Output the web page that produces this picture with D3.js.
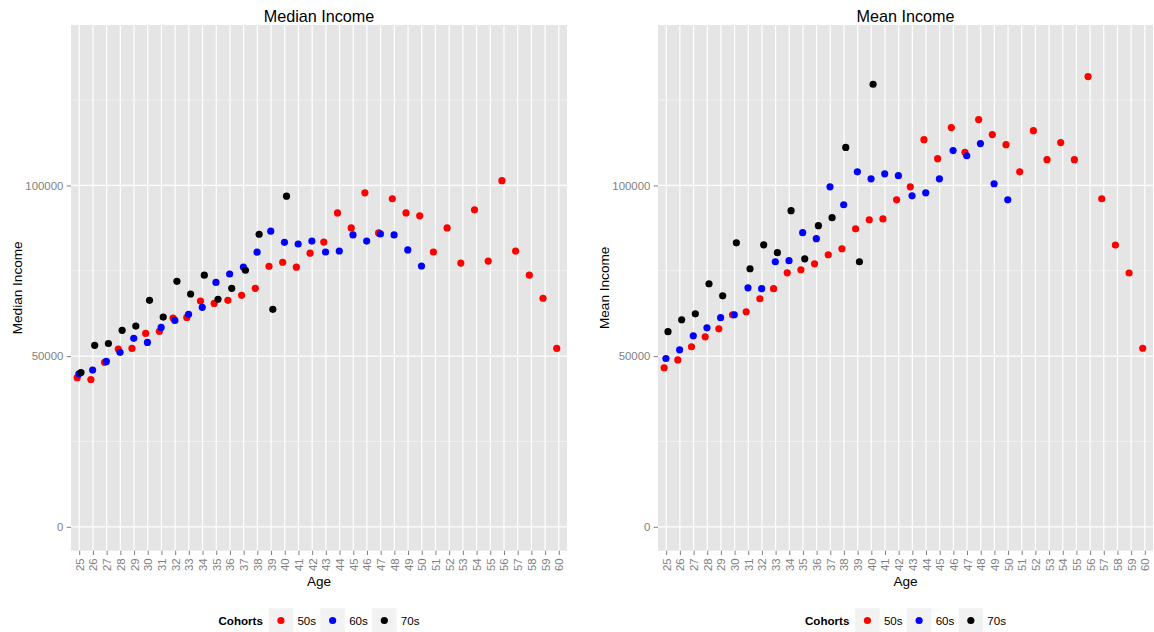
<!DOCTYPE html>
<html>
<head>
<meta charset="utf-8">
<script src="https://cdn.jsdelivr.net/npm/d3@7"></script>
<style>
  html, body { margin: 0; padding: 0; background: #ffffff; }
  svg { display: block; font-family: "Liberation Sans", Arial, Helvetica, sans-serif; }
</style>
</head>
<body>
<svg id="chart" width="1154" height="632"></svg>
<script>
// Age categories (x axis tick labels)
const ages = [25, 26, 27, 28, 29, 30, 31, 32, 33, 34, 35, 36, 37, 38, 39, 40, 41, 42,
              43, 44, 45, 46, 47, 48, 49, 50, 51, 52, 53, 54, 55, 56, 57, 58, 59, 60];

// Cohorts and their colours
const cohorts = ["50s", "60s", "70s"];
const cohortColors = ["#FF0000", "#0000FF", "#000000"];

// Y axis ticks and limits
const yTicks = [0, 50000, 100000];
const yMinorTicks = [25000, 75000, 125000];
const yLimits = [0, 140000];

// Median income by age; each series starts at age 25
const median50s = [43700, 43150, 48150, 52050, 52250, 56650, 57250, 61150, 61350, 66150,
                   65450, 66350, 67800, 69850, 76300, 77500, 76050, 80150, 83400, 91950,
                   87550, 97850, 86100, 96100, 91950, 91100, 80500, 87550, 77250, 92850,
                   77850, 101400, 80800, 73700, 66950, 52250];
const median60s = [44800, 45900, 48450, 51100, 55200, 54000, 58400, 60450, 62250, 64300,
                   71600, 74050, 76100, 80450, 86600, 83350, 82850, 83700, 80500, 80800,
                   85500, 83700, 85800, 85500, 81100, 76400];
const median70s = [45200, 53150, 53700, 57550, 58800, 66350, 61450, 71900, 68200, 73700,
                   66650, 69850, 75150, 85700, 63700, 96850];

// Mean income by age; each series starts at age 25
const mean50s = [46600, 48900, 52750, 55650, 58000, 62100, 63000, 66800, 69750, 74400,
                 75300, 77050, 79700, 81450, 87300, 89950, 90200, 95800, 99600, 113400,
                 107850, 116950, 109700, 119300, 114900, 111950, 104000, 116050, 107550, 112550,
                 107550, 131900, 96100, 82550, 74350, 52300];
const mean60s = [49300, 51850, 55950, 58300, 61250, 62100, 70000, 69750, 77650, 77950,
                 86150, 84400, 99600, 94350, 104000, 101950, 103400, 102850, 96950, 97850,
                 101950, 110200, 108700, 112250, 100500, 95800];
const mean70s = [57150, 60650, 62400, 71200, 67650, 83200, 75600, 82600, 80300, 92600,
                 78500, 88200, 90550, 111150, 77650, 129650];

// Small horizontal nudge per cohort, in units of the category step
const cohortNudge = [-0.15, -0.02, 0.13];

const svg = d3.select("#chart");

const TICK_GREY = "#7F7F7F";
const PANEL_BG = "#E5E5E5";
const FONT = "'Liberation Sans', Arial, Helvetica, sans-serif";

function drawPanel(cfg) {
  const { x0, x1, y0, y1, title, yTitle, series } = cfg;
  const g = svg.append("g");

  const x = d3.scalePoint().domain(ages).range([x0, x1]).padding(0.6);
  const span = yLimits[1] - yLimits[0];
  const y = d3.scaleLinear()
    .domain([yLimits[0] - 0.05 * span, yLimits[1] + 0.05 * span])
    .range([y1, y0]);

  // panel background
  g.append("rect")
    .attr("x", x0).attr("y", y0)
    .attr("width", x1 - x0).attr("height", y1 - y0)
    .attr("fill", PANEL_BG);

  // minor horizontal grid
  g.selectAll("line.minor").data(yMinorTicks).join("line")
    .attr("class", "minor")
    .attr("x1", x0).attr("x2", x1)
    .attr("y1", d => y(d)).attr("y2", d => y(d))
    .attr("stroke", "#F2F2F2").attr("stroke-width", 0.9);

  // major grid
  g.selectAll("line.hmajor").data(yTicks).join("line")
    .attr("class", "hmajor")
    .attr("x1", x0).attr("x2", x1)
    .attr("y1", d => y(d)).attr("y2", d => y(d))
    .attr("stroke", "#FFFFFF").attr("stroke-width", 1.2);
  g.selectAll("line.vmajor").data(ages).join("line")
    .attr("class", "vmajor")
    .attr("x1", d => x(d)).attr("x2", d => x(d))
    .attr("y1", y0).attr("y2", y1)
    .attr("stroke", "#FFFFFF").attr("stroke-width", 1.2);

  // points, drawn cohort by cohort
  series.forEach((vals, ci) => {
    const pts = vals.map((v, i) => ({ age: ages[i], value: v }));
    g.append("g").selectAll("circle").data(pts).join("circle")
      .attr("cx", d => x(d.age) + cohortNudge[ci] * x.step())
      .attr("cy", d => y(d.value))
      .attr("r", 3.6)
      .attr("fill", cohortColors[ci]);
  });

  // y axis
  const yAxis = g.append("g")
    .attr("transform", `translate(${x0},0)`)
    .call(d3.axisLeft(y).tickValues(yTicks).tickFormat(d3.format("d")).tickSize(4.3).tickPadding(3.4));
  yAxis.attr("font-size", null).attr("font-family", null);
  yAxis.select(".domain").remove();
  yAxis.selectAll(".tick line").attr("stroke", TICK_GREY).attr("stroke-width", 1);
  yAxis.selectAll(".tick text")
    .attr("fill", TICK_GREY)
    .style("font-size", "11.4px")
    .style("font-family", FONT);

  // x axis with rotated labels
  const xAxis = g.append("g")
    .attr("transform", `translate(0,${y1})`)
    .call(d3.axisBottom(x).tickSize(4.3));
  xAxis.attr("font-size", null).attr("font-family", null);
  xAxis.select(".domain").remove();
  xAxis.selectAll(".tick line").attr("stroke", TICK_GREY).attr("stroke-width", 1);
  xAxis.selectAll(".tick text")
    .attr("transform", "rotate(-90)")
    .attr("x", -7.6)
    .attr("y", 0)
    .attr("dy", "0.35em")
    .attr("text-anchor", "end")
    .attr("fill", TICK_GREY)
    .style("font-size", "11.4px")
    .style("font-family", FONT);

  const cx = (x0 + x1) / 2;

  // panel title
  g.append("text")
    .attr("x", cx).attr("y", 21.5)
    .attr("text-anchor", "middle")
    .style("font-size", "16.2px")
    .attr("fill", "#000")
    .text(title);

  // axis titles
  g.append("text")
    .attr("transform", `translate(${x0 - 49.5},${(y0 + y1) / 2}) rotate(-90)`)
    .attr("text-anchor", "middle")
    .style("font-size", "13.6px")
    .attr("fill", "#000")
    .text(yTitle);
  g.append("text")
    .attr("x", cx).attr("y", 586)
    .attr("text-anchor", "middle")
    .style("font-size", "13.6px")
    .attr("fill", "#000")
    .text("Age");

  // legend
  const lg = g.append("g");
  const ly = 620.5;
  const keySize = 25;
  let cursor = 0;
  const lt = lg.append("text")
    .attr("x", cursor).attr("y", ly).attr("dy", "0.35em")
    .style("font-size", "11.6px").style("font-weight", "bold")
    .attr("fill", "#000")
    .text("Cohorts");
  cursor += lt.node().getComputedTextLength() + 5.5;
  cohorts.forEach((c, ci) => {
    lg.append("rect")
      .attr("x", cursor).attr("y", ly - keySize / 2)
      .attr("width", keySize).attr("height", keySize)
      .attr("fill", "#F2F2F2").attr("stroke", "#FFFFFF").attr("stroke-width", 0.5);
    lg.append("circle")
      .attr("cx", cursor + keySize / 2).attr("cy", ly)
      .attr("r", 3.6).attr("fill", cohortColors[ci]);
    cursor += keySize + 4;
    const t = lg.append("text")
      .attr("x", cursor).attr("y", ly).attr("dy", "0.35em")
      .style("font-size", "11.6px")
      .attr("fill", "#000")
      .text(c);
    cursor += t.node().getComputedTextLength() + (ci < cohorts.length - 1 ? 4 : 0);
  });
  lg.attr("transform", `translate(${cx - cursor / 2},0)`);
}

drawPanel({
  x0: 71, x1: 567, y0: 25, y1: 550.7,
  title: "Median Income", yTitle: "Median Income",
  series: [median50s, median60s, median70s]
});
drawPanel({
  x0: 658, x1: 1153, y0: 25, y1: 550.7,
  title: "Mean Income", yTitle: "Mean Income",
  series: [mean50s, mean60s, mean70s]
});
</script>
</body>
</html>
